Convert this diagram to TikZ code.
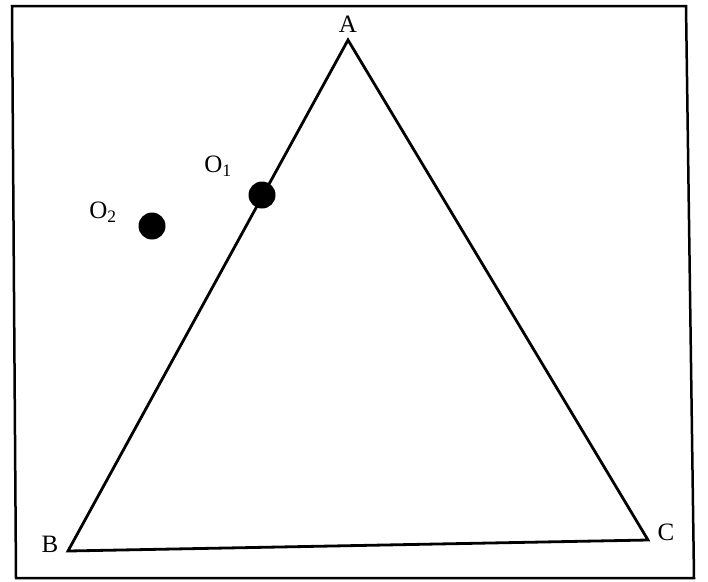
\documentclass[tikz,border=0pt]{standalone}
\usepackage{fontspec}
\setmainfont{Liberation Serif}
\begin{document}
\begin{tikzpicture}[x=1pt,y=-1pt,
  lbl/.style={font=\fontsize{25}{28}\selectfont, inner sep=0pt},
  dotnode/.style={circle, fill=black, inner sep=0pt, minimum size=27pt},
  edge/.style={line width=2.8pt, line join=miter},
  frame/.style={line width=2.5pt}]
\useasboundingbox (0,0) rectangle (708,581);
\draw[frame] (12,6) -- (686,6) -- (694,578) -- (16,578) -- cycle;
\coordinate (A) at (348,40);
\coordinate (B) at (68,551);
\coordinate (C) at (648,540);
\draw[edge] (A) -- (B) -- (C) -- cycle;
\node[lbl] (la) at (348,24) {A};
\node[lbl] (lb) at (50,544) {B};
\node[lbl] (lc) at (666,532) {C};
\node[dotnode] (o1) at (262,195) {};
\node[dotnode] (o2) at (152,226) {};
\node[lbl] (lo1) at (218,166) {O\textsubscript{1}};
\node[lbl] (lo2) at (103,212) {O\textsubscript{2}};
\end{tikzpicture}
\end{document}
